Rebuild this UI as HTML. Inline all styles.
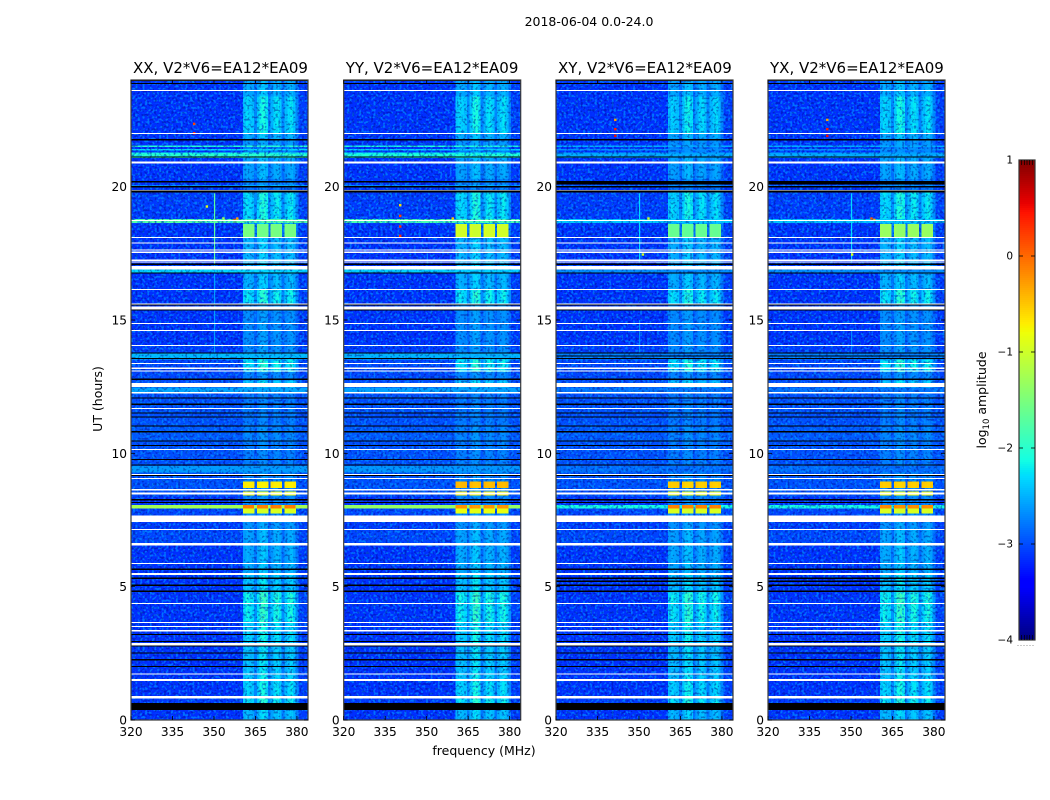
<!DOCTYPE html>
<html>
<head>
<meta charset="utf-8">
<title>2018-06-04 0.0-24.0</title>
<style>
  html, body { margin: 0; padding: 0; background: #fff; }
  #figure { display: block; width: 1050px; height: 800px; }
  text { font-family: "DejaVu Sans", "Liberation Sans", sans-serif; fill: #000; }
</style>
</head>
<body>
<svg id="figure" xmlns="http://www.w3.org/2000/svg" width="1050" height="800" viewBox="0 0 1050 800">
  <defs>
    <filter id="speck-light" x="0" y="0" width="100%" height="100%" color-interpolation-filters="sRGB">
      <feTurbulence type="fractalNoise" baseFrequency="0.42" numOctaves="1" seed="4"/>
      <feColorMatrix type="matrix" values="0 0 0 0 0  0 0 0 0 0.62  0 0 0 0 1  8 0 0 0 -4.1"/>
    </filter>
    <filter id="speck-dark" x="0" y="0" width="100%" height="100%" color-interpolation-filters="sRGB">
      <feTurbulence type="fractalNoise" baseFrequency="0.42" numOctaves="1" seed="11"/>
      <feColorMatrix type="matrix" values="0 0 0 0 0  0 0 0 0 0  0 0 0 0 0.5  8 0 0 0 -4.3"/>
    </filter>
  </defs>
  <rect x="0" y="0" width="1050" height="800" fill="#ffffff"/>
  <text x="589" y="26" font-size="12.5" text-anchor="middle">2018-06-04 0.0-24.0</text>
  <text x="0" y="0" font-size="12.5" text-anchor="middle" transform="translate(102 399) rotate(-90)">UT (hours)</text>
  <text x="484" y="755" font-size="12.5" text-anchor="middle">frequency (MHz)</text>
  <g id="panels"></g>
  <g id="colorbar"></g>
  <text x="0" y="0" font-size="12.5" text-anchor="middle" transform="translate(986 400) rotate(-90)">log<tspan font-size="8.5" dy="3">10</tspan><tspan dy="-3"> amplitude</tspan></text>
</svg>

<script>
// ---- Chart data -------------------------------------------------------
const panelTitles = ['XX, V2*V6=EA12*EA09', 'YY, V2*V6=EA12*EA09', 'XY, V2*V6=EA12*EA09', 'YX, V2*V6=EA12*EA09'];
const freqTicks = [320, 335, 350, 365, 380];
const hourTicks = [0, 5, 10, 15, 20];
const colorTicks = [1, 0, -1, -2, -3, -4];

// Frequency columns (MHz) and how strongly each responds to in-band signal
const freqEdges = [320, 335, 350, 360.5, 361.5, 362.5, 363.5, 364.5, 365.5, 366.5, 367.5, 368.5, 369.5, 370.5, 371.5, 372.5, 373.5, 374.5, 375.5, 376.5, 377.5, 378.5, 379.5, 380.5, 384];
const freqResponse = [0, 0, 0, 0.66, 0.76, 0.7, 0.66, 0.38, 0.68, 0.88, 0.92, 0.82, 0.36, 0.58, 0.76, 0.8, 0.7, 0.36, 0.62, 0.74, 0.8, 0.66, 0.38, 0.06];

// Time rows: start hour, out-of-band log10 amplitude, in-band response gain
const rowStart = [0, 0.64, 0.90, 1.46, 1.75, 2.93, 3.66, 4.39, 4.80, 5.52, 6.63, 7.16, 7.66, 7.75, 7.95, 8.07, 8.40, 8.44, 8.56, 8.72, 8.94, 9.29, 9.54, 10.45, 11.0, 12.25, 12.48, 12.75, 13.06, 13.54, 13.76, 14.05, 15.0, 15.6, 16.16, 16.76, 17.03, 18.13, 18.60, 18.66, 18.80, 19.79, 19.99, 20.06, 20.3, 20.94, 21.09, 21.24, 21.29, 21.38, 21.42, 21.5, 21.56, 21.74, 22.0, 23.4, 23.85];
const rowLevel = [-3.15, -3.1, -3.25, -3.2, -3.25, -3.2, -3.25, -3.25, -3.25, -3.15, -3.05, -3.1, -3.05, -3.05, -1.25, -3.4, -3.0, -3.0, -3.0, -3.0, -3.0, -2.62, -3.0, -2.95, -3.0, -2.55, -3.0, -3.05, -3.05, -2.45, -3.1, -3.15, -3.2, -3.2, -3.2, -2.3, -3.15, -3.15, -3.1, -1.75, -3.1, -3.2, -2.2, -3.2, -3.2, -3.15, -2.0, -2.1, -3.2, -2.3, -3.2, -2.0, -3.2, -3.15, -3.2, -3.2, -3.1];
const rowGain = [0.85, 1.1, 1.0, 0.95, 0.9, 1.0, 1.15, 1.2, 0.9, 0.75, 0.7, 0.6, 0.55, 0.55, 0.5, 0.5, 0.5, 0.5, 0.5, 0.5, 0.5, 0.2, 0.45, 0.5, 0.42, 0.3, 0.9, 0.5, 1.1, 0.1, 0.55, 0.55, 0.55, 1.1, 0.8, 0.05, 0.8, 0.8, 0.85, 0.4, 1.05, 0.4, 0.2, 0.5, 0.7, 0.7, 0.4, 0.4, 0.5, 0.4, 0.5, 0.4, 0.6, 0.75, 1.0, 0.75, 0.7];

// Per-correlation scaling of bright rows and of in-band response
const panelLineGain = [1, 0.95, 0.55, 0.55];
const panelBandGain = [1, 1, 0.95, 1];

// Strong in-band interference windows (hours) and log10 level per correlation
const rfiStart = [7.75, 7.95, 8.44, 8.72, 18.13];
const rfiEnd = [7.94, 8.07, 8.56, 8.94, 18.60];
const rfiXX = [-0.95, -0.12, -0.8, -0.72, -1.55];
const rfiYY = [-0.85, -0.25, -0.72, -0.45, -1.0];
const rfiXY = [-0.95, -0.15, -0.8, -0.55, -1.65];
const rfiYX = [-0.95, -0.2, -0.8, -0.55, -1.35];

// Flagged (no data, white) time intervals, hours
const whiteStart = [0.81, 1.46, 1.71, 2.80, 3.31, 3.48, 3.64, 4.35, 5.44, 5.85, 6.55, 7.13, 7.43, 8.46, 8.60, 9.04, 9.19, 10.13, 11.66, 12.25, 12.48, 13.06, 13.17, 13.35, 14.02, 14.59, 14.85, 15.40, 15.57, 16.13, 16.90, 17.15, 17.22, 17.52, 17.61, 17.86, 18.08, 18.71, 19.83, 20.86, 21.98, 23.59];
const whiteEnd = [0.90, 1.54, 1.75, 2.89, 3.38, 3.52, 3.68, 4.39, 5.52, 5.89, 6.63, 7.17, 7.66, 8.54, 8.66, 9.08, 9.23, 10.17, 11.70, 12.30, 12.63, 13.10, 13.21, 13.39, 14.06, 14.63, 14.89, 15.50, 15.61, 16.17, 17.03, 17.19, 17.26, 17.56, 17.65, 17.90, 18.12, 18.75, 19.87, 20.94, 22.02, 23.63];

// Zero-amplitude (black) time intervals, hours
const blackHour = [1.98, 2.24, 2.49, 2.75, 2.93, 3.18, 4.80, 5.03, 5.29, 5.63, 8.13, 8.23, 9.15, 9.54, 9.75, 10.28, 10.45, 10.79, 11.0, 11.35, 11.50, 11.82, 12.05, 12.75, 13.54, 13.74, 15.35, 15.54, 16.74, 17.06, 19.79, 19.96, 20.15, 21.09, 21.74, 23.85, 23.96];
const blackWidth = [0.04, 0.04, 0.04, 0.04, 0.04, 0.04, 0.05, 0.05, 0.05, 0.05, 0.05, 0.05, 0.04, 0.04, 0.04, 0.04, 0.04, 0.04, 0.04, 0.04, 0.04, 0.04, 0.04, 0.05, 0.04, 0.04, 0.04, 0.05, 0.05, 0.06, 0.06, 0.06, 0.07, 0.05, 0.05, 0.04, 0.04];
const thickBlackStart = [0.38];
const thickBlackEnd = [0.64];

// Extra dropped rows in the cross-hand correlations only
const crossBlackStart = [5.18, 13.63, 20.08];
const crossBlackEnd = [5.24, 13.67, 20.18];

// Narrow vertical spurs: correlation index, MHz, hour range, level
const spurPanel = [0, 0, 1, 2, 2, 3, 3];
const spurFreq = [350, 350, 350, 350, 350, 350, 350];
const spurStart = [17.1, 13.6, 17.1, 17.2, 13.6, 17.2, 13.6];
const spurEnd = [19.75, 17.1, 17.5, 19.75, 15.0, 19.75, 14.6];
const spurValue = [-1.7, -2.6, -2.7, -2.3, -2.7, -2.3, -2.7];

// Isolated bright pixels: correlation index, MHz, hour, level
const spotPanel = [0, 0, 0, 0, 0, 0, 1, 1, 1, 1, 1, 2, 2, 2, 2, 2, 3, 3, 3, 3, 3, 3];
const spotFreq = [357, 358, 347, 353, 342.4, 342.4, 340, 340, 340, 340, 359, 341, 341, 341, 353, 351, 341, 341, 341, 357, 358, 350];
const spotHour = [18.8, 18.85, 19.3, 18.85, 22.4, 22.05, 19.35, 18.95, 18.55, 18.2, 18.85, 22.55, 22.2, 21.95, 18.85, 17.5, 22.55, 22.2, 21.95, 18.85, 18.8, 17.5];
const spotValue = [0.15, -0.3, -0.9, -1.2, 0.2, 0.3, -0.6, 0.2, 0.3, 0.3, -0.5, -0.3, 0.4, 0.5, -1, -1, -0.3, 0.4, 0.5, 0.1, -0.4, -0.9];

// ---- Layout and scales ------------------------------------------------
const SVGNS = 'http://www.w3.org/2000/svg';
const panelLeft = [131, 343.7, 556, 768];
const panelWidth = 177;
const panelTop = 80;
const panelHeight = 640;
const freqMin = 320;
const freqMax = 384;
const hourMax = 24;
const cbarLeft = 1019;
const cbarWidth = 16;
const cbarTop = 160;
const cbarHeight = 480;
const colorMin = -4;
const colorMax = 1;
const speckleCeiling = -1.7;

const xScale = function (panel, mhz) { return panelLeft[panel] + (mhz - freqMin) / (freqMax - freqMin) * panelWidth; };
const yScale = function (hour) { return panelTop + panelHeight - hour / hourMax * panelHeight; };
const cScale = function (value) { return cbarTop + cbarHeight - (value - colorMin) / (colorMax - colorMin) * cbarHeight; };

function ramp(f, points) {
  for (let i = 1; i < points.length; i++) {
    if (f <= points[i][0]) {
      const a = points[i - 1];
      const b = points[i];
      return a[1] + (b[1] - a[1]) * (f - a[0]) / (b[0] - a[0]);
    }
  }
  return points[points.length - 1][1];
}
function jet(value) {
  const f = Math.max(0, Math.min(1, (value - colorMin) / (colorMax - colorMin)));
  const r = ramp(f, [[0, 0], [0.35, 0], [0.66, 1], [0.89, 1], [1, 0.5]]);
  const g = ramp(f, [[0, 0], [0.125, 0], [0.375, 1], [0.64, 1], [0.91, 0], [1, 0]]);
  const b = ramp(f, [[0, 0.5], [0.11, 1], [0.34, 1], [0.65, 0], [1, 0]]);
  return 'rgb(' + Math.round(r * 255) + ',' + Math.round(g * 255) + ',' + Math.round(b * 255) + ')';
}

function make(tag, parent, attrs) {
  const node = document.createElementNS(SVGNS, tag);
  Object.keys(attrs).forEach(function (key) { node.setAttribute(key, attrs[key]); });
  parent.appendChild(node);
  return node;
}

// ---- Cell value from the data arrays ----------------------------------
const rfiByPanel = [rfiXX, rfiYY, rfiXY, rfiYX];
const baseLevel = -3.15;

function cellValue(panel, row, col) {
  const nextHour = row + 1 < rowStart.length ? rowStart[row + 1] : hourMax;
  const mid = (rowStart[row] + nextHour) / 2;
  let level = rowLevel[row];
  if (level > -2.8) {
    level = baseLevel + (level - baseLevel) * panelLineGain[panel];
  }
  const response = freqResponse[col];
  for (let k = 0; k < rfiStart.length; k++) {
    if (mid >= rfiStart[k] && mid < rfiEnd[k] && response > 0.4) {
      return rfiByPanel[panel][k] + (0.8 - response) * 0.25;
    }
  }
  const inband = -3.15 + response * rowGain[row] * panelBandGain[panel] * 1.15;
  return Math.max(level, inband);
}

// ---- Draw panels ------------------------------------------------------
const panelsRoot = document.getElementById('panels');

panelTitles.forEach(function (title, p) {
  const g = make('g', panelsRoot, {});
  
  

  const titleNode = make('text', g, { x: panelLeft[p] + 2, y: 73, 'font-size': 15 });
  
  
  titleNode.textContent = title;

  const cells = make('g', g, { 'shape-rendering': 'crispEdges' });
  
  

  const brightCells = make('g', document.createElementNS(SVGNS, 'g'), { 'shape-rendering': 'crispEdges' });
  
  

  rowStart.forEach(function (startHour, r) {
    const endHour = r + 1 < rowStart.length ? rowStart[r + 1] : hourMax;
    const y1 = yScale(endHour);
    const y2 = yScale(startHour);
    for (let c = 0; c < freqResponse.length; c++) {
      const x1 = xScale(p, freqEdges[c]);
      const x2 = xScale(p, freqEdges[c + 1]);
      const value = cellValue(p, r, c);
      const cell = make('rect', value > speckleCeiling ? brightCells : cells, { x: x1.toFixed(2), y: y1.toFixed(2), width: (x2 - x1 + 0.4).toFixed(2), height: (y2 - y1 + 0.4).toFixed(2), fill: jet(value) });
      
      
    }
  });

  const speckA = make('rect', g, { x: panelLeft[p], y: panelTop, width: panelWidth, height: panelHeight, fill: '#000', filter: 'url(#speck-light)', opacity: 0.6 });
  
  
  const speckB = make('rect', g, { x: panelLeft[p], y: panelTop, width: panelWidth, height: panelHeight, fill: '#000', filter: 'url(#speck-dark)', opacity: 0.38 });
  
  

  g.appendChild(brightCells);

  spurPanel.forEach(function (owner, i) {
    if (owner !== p) return;
    const x = xScale(p, spurFreq[i]);
    const spur = make('rect', g, { x: x.toFixed(2), y: yScale(spurEnd[i]).toFixed(2), width: 1.2, height: (yScale(spurStart[i]) - yScale(spurEnd[i])).toFixed(2), fill: jet(spurValue[i]) });
    
    
  });

  spotPanel.forEach(function (owner, i) {
    if (owner !== p) return;
    const spot = make('rect', g, { x: xScale(p, spotFreq[i]).toFixed(2), y: yScale(spotHour[i]).toFixed(2), width: 2.4, height: 2.4, fill: jet(spotValue[i]) });
    
    
  });

  const left = panelLeft[p];
  const flags = make('g', g, { 'shape-rendering': 'crispEdges' });
  
  

  whiteStart.forEach(function (hour, i) {
    const white = make('rect', flags, { x: left, y: yScale(whiteEnd[i]).toFixed(2), width: panelWidth, height: Math.max(1, yScale(hour) - yScale(whiteEnd[i])).toFixed(2), fill: '#ffffff' });
    
    
  });
  blackHour.forEach(function (hour, i) {
    const black = make('rect', flags, { x: left, y: yScale(hour + blackWidth[i]).toFixed(2), width: panelWidth, height: Math.max(1, yScale(hour) - yScale(hour + blackWidth[i])).toFixed(2), fill: '#000000' });
    
    
  });
  thickBlackStart.forEach(function (hour, i) {
    const thick = make('rect', flags, { x: left, y: yScale(thickBlackEnd[i]).toFixed(2), width: panelWidth, height: (yScale(hour) - yScale(thickBlackEnd[i])).toFixed(2), fill: '#000000' });
    
    
  });
  if (p >= 2) {
    crossBlackStart.forEach(function (hour, i) {
      const extra = make('rect', flags, { x: left, y: yScale(crossBlackEnd[i]).toFixed(2), width: panelWidth, height: (yScale(hour) - yScale(crossBlackEnd[i])).toFixed(2), fill: '#000000' });
      
      
    });
  }

  const frame = make('rect', g, { x: left, y: panelTop, width: panelWidth, height: panelHeight, fill: 'none', stroke: '#3a3a3a', 'stroke-width': 1.2 });
  
  

  freqTicks.forEach(function (mhz) {
    const x = xScale(p, mhz);
    const tickA = make('line', g, { x1: x, x2: x, y1: panelTop + panelHeight, y2: panelTop + panelHeight - 4, stroke: '#000', 'stroke-width': 0.8 });
    
    
    const tickB = make('line', g, { x1: x, x2: x, y1: panelTop, y2: panelTop + 4, stroke: '#000', 'stroke-width': 0.8 });
    
    
    const label = make('text', g, { x: x, y: 736, 'font-size': 12.2, 'text-anchor': 'middle' });
    
    
    label.textContent = String(mhz);
  });

  hourTicks.forEach(function (hour) {
    const y = yScale(hour);
    const tickA = make('line', g, { x1: left, x2: left + 4, y1: y, y2: y, stroke: '#000', 'stroke-width': 0.8 });
    
    
    const tickB = make('line', g, { x1: left + panelWidth, x2: left + panelWidth - 4, y1: y, y2: y, stroke: '#000', 'stroke-width': 0.8 });
    
    
    const label = make('text', g, { x: left - 4, y: y + 4.5, 'font-size': 12.2, 'text-anchor': 'end' });
    
    
    label.textContent = String(hour);
  });
});

// ---- Colorbar ---------------------------------------------------------
const cbarRoot = document.getElementById('colorbar');
const cbarStrips = make('g', cbarRoot, { 'shape-rendering': 'crispEdges' });


for (let py = 0; py < cbarHeight; py += 2) {
  const level = colorMax - (py + 1) / cbarHeight * (colorMax - colorMin);
  const strip = make('rect', cbarStrips, { x: cbarLeft, y: cbarTop + py, width: cbarWidth, height: 2.2, fill: jet(level) });
  
  
}
const cbarFrame = make('rect', cbarRoot, { x: cbarLeft, y: cbarTop, width: cbarWidth, height: cbarHeight, fill: 'none', stroke: '#333', 'stroke-width': 1.2 });



colorTicks.forEach(function (value) {
  const y = cScale(value);
  const isEnd = value === colorMax || value === colorMin;
  if (!isEnd) {
    const tickL = make('line', cbarRoot, { x1: cbarLeft, x2: cbarLeft + 4, y1: y, y2: y, stroke: '#000', 'stroke-width': 0.8 });
    
    
    const tickR = make('line', cbarRoot, { x1: cbarLeft + cbarWidth, x2: cbarLeft + cbarWidth - 4, y1: y, y2: y, stroke: '#000', 'stroke-width': 0.8 });
    
    
  }
  const label = make('text', cbarRoot, { x: cbarLeft - 6, y: y + 3.5, 'font-size': 10.5, 'text-anchor': 'end' });
  
  
  label.textContent = String(value).replace('-', '\u2212');
});

for (let m = 1; m < 6; m++) {
  const x = cbarLeft + m * cbarWidth / 6;
  const top = make('line', cbarRoot, { x1: x, x2: x, y1: cbarTop, y2: cbarTop + 5, stroke: '#000', 'stroke-width': 0.7 });
  
  
  const bottom = make('line', cbarRoot, { x1: x, x2: x, y1: cbarTop + cbarHeight, y2: cbarTop + cbarHeight - 5, stroke: '#000', 'stroke-width': 0.7 });
  
  
}
for (let d = 0; d < 6; d++) {
  const dot = make('rect', cbarRoot, { x: 1017.5 + d * 3, y: 645, width: 1, height: 1, fill: '#999' });
  
  
}
</script>
</body>
</html>
